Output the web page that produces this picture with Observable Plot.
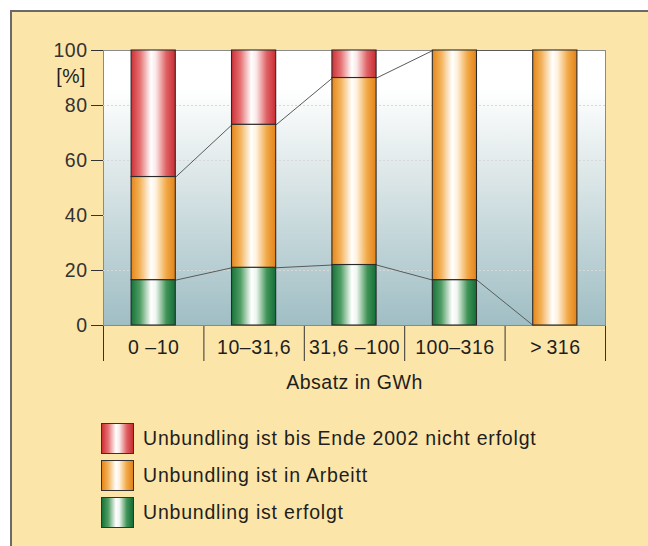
<!DOCTYPE html>
<html>
<head>
<meta charset="utf-8">
<script src="https://cdn.jsdelivr.net/npm/d3@7"></script>
<script src="https://cdn.jsdelivr.net/npm/@observablehq/plot@0.6"></script>
<style>
  html, body { margin: 0; padding: 0; background: #fff; font-family: "Liberation Sans", Arial, sans-serif; overflow: hidden; }
  #wrap { position: relative; width: 648px; height: 546px; overflow: hidden; }
  #frame { position: absolute; left: 10px; top: 10px; width: 638px; height: 536px; background: #fce5a8;
           border-top: 2px solid #6a6a6a; border-left: 2px solid #6a6a6a; box-sizing: border-box; }
  #chart { position: absolute; left: 0; top: 0; }
  #pct { position: absolute; right: 562px; top: 65px; font-size: 19.5px; letter-spacing: 0.5px; color: #1e1e1e; line-height: 22px; }
  #legend { position: absolute; left: 101px; top: 423px; }
  .row { display: flex; align-items: center; height: 31px; margin-bottom: 6px; }
  .sw { width: 31px; height: 29px; border: 1.2px solid #333; margin-right: 9px; flex: none; }
  .lab { font-size: 19.5px; letter-spacing: 0.8px; color: #1e1e1e; }
</style>
</head>
<body>
<div id="wrap">
  <div id="frame"></div>
  <div id="chart"></div>
  <div id="pct">[%]</div>
  <div id="legend"></div>
</div>
<script>
// ---- data ----
const categories = ["0 \u201310", "10\u201331,6", "31,6 \u2013100", "100\u2013316", ">\u2009316"];
const seriesNames = ["Unbundling ist erfolgt", "Unbundling ist in Arbeitt", "Unbundling ist bis Ende 2002 nicht erfolgt"];
const erfolgt      = [16.5, 21, 22, 16.5, 0];
const inArbeit     = [37.5, 52, 68, 83.5, 100];
const nichtErfolgt = [46, 27, 10, 0, 0];
const yTicks = [0, 20, 40, 60, 80, 100];
const yGrid = [20, 40, 60, 80];
const xLabel = "Absatz in GWh";
const legendOrder = [2, 1, 0];

// ---- styles ----
const gradIds = ["gGreen", "gOrange", "gRed"];
const gradStops = [
  [[0, "#17733a"], [0.2, "#4f9d63"], [0.45, "#ffffff"], [0.56, "#eef6ef"], [0.8, "#3f9356"], [1, "#146d37"]],
  [[0, "#e6861a"], [0.2, "#f3b35a"], [0.45, "#ffffff"], [0.56, "#fff1dc"], [0.8, "#f1a845"], [1, "#e2821a"]],
  [[0, "#cd3137"], [0.2, "#e57072"], [0.45, "#ffffff"], [0.56, "#fbe8e8"], [0.8, "#df6063"], [1, "#c72d33"]]
];
const PAD = 0.28;

// ---- derived tables ----
const values = [erfolgt, inArbeit, nichtErfolgt];
const n = categories.length;
const segments = [];
for (let i = 0; i < n; i++) {
  let c = 0;
  values.forEach((arr, s) => {
    const v = arr[i];
    if (v > 0) segments.push({i, s, y1: c, y2: c + v});
    c += v;
  });
}
const tops = [erfolgt, erfolgt.map((g, i) => g + inArbeit[i])];
const links = tops.flatMap(t => d3.range(n - 1).map(i => ({x1: i + 1 - PAD, x2: i + 1 + PAD, y1: t[i], y2: t[i + 1]})));

const svg = Plot.plot({
  width: 648,
  height: 405,
  marginLeft: 103,
  marginRight: 43,
  marginTop: 50,
  marginBottom: 80,
  style: {background: "transparent", fontFamily: "Liberation Sans, Arial, sans-serif", fontSize: "19.5px", color: "#333", letterSpacing: "0.5px"},
  x: {domain: [0, n], ticks: d3.range(n + 1), tickSize: 36, tickFormat: () => "", label: null},
  y: {domain: [0, 100], ticks: yTicks, tickSize: 12, tickPadding: 4, label: null},
  marks: [
    Plot.frame({fill: "url(#bgGrad)", stroke: "#8a8a8a"}),
    Plot.ruleY(yGrid, {stroke: "#d8d8d8", strokeDasharray: "2,2"}),
    Plot.link(links, {x1: "x1", x2: "x2", y1: "y1", y2: "y2", stroke: "#5a5a5a", strokeWidth: 1}),
    Plot.rect(segments, {x1: d => d.i + PAD, x2: d => d.i + 1 - PAD, y1: "y1", y2: "y2",
      fill: d => `url(#${gradIds[d.s]})`, stroke: "#2a2a2a", strokeWidth: 1.1}),
    Plot.text(categories, {x: (d, i) => i + 0.5, frameAnchor: "bottom", dy: 28, fill: "#1e1e1e"}),
    Plot.text([xLabel], {frameAnchor: "bottom", dy: 63, fill: "#1e1e1e"})
  ]
});

const defs = d3.select(svg).insert("defs", ":first-child");
gradIds.forEach((id, k) => {
  const g = defs.append("linearGradient").attr("id", id).attr("x1", 0).attr("x2", 1).attr("y1", 0).attr("y2", 0);
  gradStops[k].forEach(([o, c]) => g.append("stop").attr("offset", o).attr("stop-color", c));
});
const bg = defs.append("linearGradient").attr("id", "bgGrad").attr("x1", 0).attr("x2", 0).attr("y1", 0).attr("y2", 1);
[[0, "#ffffff"], [0.14, "#ffffff"], [0.45, "#dde7e8"], [1, "#9fbec4"]].forEach(([o, c]) => bg.append("stop").attr("offset", o).attr("stop-color", c));

document.getElementById("chart").appendChild(svg);

// legend
const leg = d3.select("#legend");
legendOrder.forEach(s => {
  const css = "linear-gradient(to right, " + gradStops[s].map(([o, c]) => `${c} ${o * 100}%`).join(", ") + ")";
  const row = leg.append("div").attr("class", "row");
  row.append("div").attr("class", "sw").style("background", css);
  row.append("div").attr("class", "lab").text(seriesNames[s]);
});
</script>
</body>
</html>
